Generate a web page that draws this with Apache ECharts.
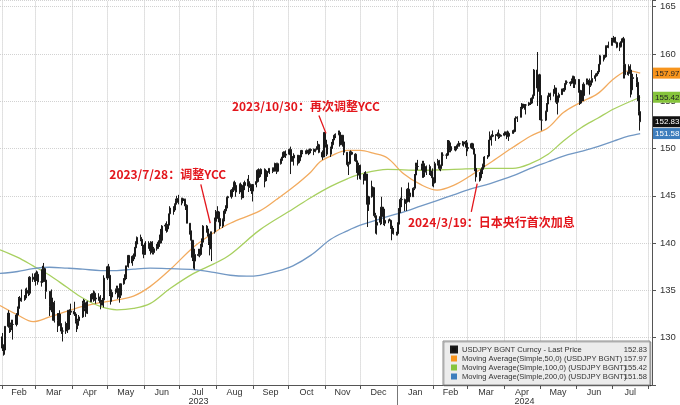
<!DOCTYPE html>
<html>
<head>
<meta charset="utf-8">
<script src="https://cdn.jsdelivr.net/npm/echarts@6/dist/echarts.min.js"></script>
<style>
  html, body { margin: 0; padding: 0; background: #fff; }
  #main { width: 680px; height: 405px; }
</style>
</head>
<body>
<div id="main"></div>
<script>
// 坐标轴标签
const monthLabels = ['Feb', 'Mar', 'Apr', 'May', 'Jun', 'Jul', 'Aug', 'Sep', 'Oct', 'Nov', 'Dec',
  'Jan', 'Feb', 'Mar', 'Apr', 'May', 'Jun', 'Jul'];
const firstMonth = '2023-02-01';
const yearBreak = '2024-01-01';
const axisStart = '2023-01-30';
const axisEnd = '2024-08-04';

// 日线数据：从 2023-02-01 起的交易日（周一至周五），开盘 = 前一日收盘
const firstDay = '2023-02-01';
const firstOpen = 130.1;
const closes = [
  128.9, 128.7, 131.2,
  132.6, 131.1, 131.4, 131.4, 131.4,
  132.4, 133.1, 134.1, 133.9, 134.2,
  134.2, 135.0, 134.9, 134.7, 136.4,
  136.2, 136.2, 136.1, 136.7, 135.9,
  135.9, 137.2, 137.3, 136.1, 134.9,
  133.3, 134.2, 133.4, 133.7, 131.8,
  131.3, 132.5, 131.5, 130.7, 130.7,
  131.5, 130.9, 132.9, 132.7, 132.8,
  132.5, 131.7, 131.3, 131.8, 132.2,
  133.6, 133.7, 133.1, 132.6, 133.8,
  134.5, 134.1, 134.7, 134.2, 134.1,
  134.3, 133.7, 133.7, 134.0, 136.3,
  137.5, 136.6, 134.6, 134.3, 134.8,
  135.1, 135.2, 134.3, 134.5, 135.7,
  136.1, 136.4, 137.6, 138.7, 137.9,
  138.6, 138.6, 139.5, 139.9, 140.6,
  140.4, 139.8, 139.3, 138.8, 140.0,
  139.6, 139.2, 140.1, 139.0, 139.4,
  139.6, 140.1, 140.0, 140.3, 141.8,
  141.9, 141.5, 141.9, 143.1, 143.7,
  143.5, 144.1, 144.5, 144.7, 144.3,
  144.7, 144.5, 144.6, 144.0, 142.1,
  141.3, 140.3, 138.5, 138.1, 138.8,
  138.7, 138.8, 139.6, 140.1, 141.8,
  141.5, 140.9, 140.2, 139.4, 141.2,
  142.3, 143.3, 143.3, 142.6, 141.8,
  142.5, 143.4, 143.7, 144.8, 144.9,
  145.6, 145.6, 146.4, 146.1, 145.4,
  146.2, 145.9, 144.8, 146.1, 146.4,
  146.5, 145.9, 146.2, 145.5, 146.2,
  146.5, 147.7, 147.7, 147.3, 147.8,
  146.6, 147.1, 147.5, 147.5, 147.9,
  147.6, 147.9, 148.4, 147.6, 148.4,
  148.9, 149.1, 149.6, 149.3, 149.4,
  149.9, 149.0, 149.1, 149.0, 149.3,
  148.5, 148.7, 149.1, 149.8, 149.6,
  149.5, 149.8, 149.8, 149.8, 149.9,
  149.7, 149.9, 150.2, 150.4, 149.6,
  149.1, 151.7, 150.9, 150.4, 149.4,
  150.0, 150.4, 150.9, 151.4, 151.5,
  151.7, 150.4, 151.4, 150.7, 149.6,
  148.3, 148.4, 149.5, 149.6, 149.4,
  148.7, 147.5, 147.2, 148.2, 146.8,
  147.2, 147.2, 147.3, 144.1, 144.9,
  145.9, 145.4, 142.9, 141.9, 142.2,
  142.8, 143.8, 143.6, 142.1, 142.4,
  142.4, 142.4, 141.8, 141.4, 141.0,
  141.0, 142.0, 143.3, 144.6, 144.6,
  144.2, 144.4, 145.7, 145.3, 144.9,
  145.8, 147.2, 148.1, 148.1, 148.1,
  148.1, 148.4, 147.5, 147.6, 148.1,
  147.5, 147.6, 146.9, 146.4, 148.4,
  148.7, 147.9, 148.2, 149.3, 149.3,
  149.3, 150.8, 150.6, 149.8, 150.2,
  150.0, 150.0, 150.3, 150.5, 150.5,
  150.7, 150.5, 150.6, 150.0, 150.1,
  150.5, 150.0, 149.4, 147.9, 147.0,
  146.9, 147.7, 147.8, 148.3, 149.1,
  149.2, 150.9, 151.3, 151.3, 151.4,
  151.4, 151.5, 151.3, 151.3, 151.4,
  151.6, 151.6, 151.7, 151.3, 151.6,
  151.9, 151.8, 153.2, 153.3, 153.3,
  154.2, 154.7, 154.4, 154.6, 154.6,
  154.8, 154.8, 155.3, 155.6, 158.3,
  156.4, 157.8, 155.6, 153.0, 153.0,
  153.9, 154.7, 155.5, 155.5, 155.8,
  156.2, 156.4, 154.9, 155.4, 155.7,
  156.3, 156.2, 156.8, 157.0, 157.0,
  156.9, 157.2, 157.6, 156.8, 157.3,
  156.1, 154.8, 156.1, 155.6, 156.8,
  157.0, 157.2, 156.7, 157.0, 157.4,
  157.7, 157.9, 158.1, 158.9, 159.8,
  159.7, 159.7, 160.8, 160.7, 160.9,
  161.5, 161.4, 161.7, 161.2, 160.7,
  160.8, 161.3, 161.6, 158.9, 157.8,
  158.1, 158.3, 156.2, 157.4, 157.5,
  157.0, 155.6, 153.9, 152.83
];
const highs = [
  130.5, 129.3, 131.2,
  132.9, 132.6, 131.6, 131.9, 131.9,
  132.6, 133.3, 134.3, 134.4, 135.1,
  134.5, 135.2, 135.3, 135.1, 136.5,
  136.8, 136.8, 136.9, 137.1, 137.0,
  136.1, 137.6, 137.9, 137.4, 136.7,
  134.9, 134.6, 135.1, 133.9, 133.9,
  132.6, 132.6, 132.9, 131.5, 131.1,
  131.7, 131.6, 132.9, 133.0, 133.6,
  133.8, 132.7, 131.8, 132.0, 132.4,
  133.9, 134.1, 134.0, 133.2, 133.9,
  134.6, 134.7, 135.0, 134.9, 134.4,
  134.7, 134.5, 134.0, 134.2, 136.6,
  137.6, 137.8, 136.7, 134.9, 135.1,
  135.2, 135.5, 135.5, 134.8, 135.7,
  136.3, 136.7, 137.6, 138.7, 138.7,
  138.7, 138.9, 139.6, 140.2, 140.7,
  140.9, 140.6, 140.1, 139.4, 140.2,
  140.2, 139.9, 140.2, 140.2, 139.6,
  139.9, 140.3, 140.9, 141.5, 141.9,
  142.1, 142.3, 142.0, 143.1, 143.9,
  143.9, 144.2, 144.7, 145.0, 145.1,
  144.8, 144.8, 144.7, 144.7, 144.1,
  142.1, 141.3, 140.3, 138.8, 139.4,
  139.4, 139.4, 139.9, 140.5, 141.9,
  141.9, 141.7, 141.4, 141.0, 141.2,
  142.7, 143.5, 143.9, 143.4, 142.7,
  142.6, 143.6, 144.0, 144.9, 145.0,
  145.7, 145.9, 146.5, 146.6, 146.0,
  146.3, 146.4, 145.9, 146.2, 146.6,
  146.8, 147.2, 146.3, 146.2, 146.2,
  146.6, 147.8, 147.9, 147.8, 147.9,
  147.9, 147.2, 147.7, 147.6, 147.9,
  148.0, 148.0, 148.5, 148.5, 148.5,
  148.9, 149.2, 149.7, 149.7, 149.8,
  150.0, 150.2, 149.3, 149.2, 149.5,
  149.3, 148.9, 149.3, 149.8, 149.8,
  149.8, 149.9, 149.9, 150.0, 150.0,
  150.0, 150.0, 150.2, 150.8, 150.5,
  149.8, 151.7, 151.7, 151.0, 150.6,
  150.2, 150.7, 151.0, 151.4, 151.6,
  151.9, 151.9, 151.4, 151.4, 150.8,
  149.6, 148.6, 149.7, 149.8, 149.7,
  149.5, 148.8, 147.5, 148.5, 148.3,
  147.3, 147.5, 147.6, 147.3, 145.0,
  146.6, 146.0, 145.9, 143.2, 142.4,
  142.8, 144.9, 143.8, 143.7, 142.6,
  142.5, 142.6, 142.5, 141.9, 141.6,
  141.2, 142.2, 143.7, 144.8, 145.9,
  144.7, 144.6, 145.8, 146.4, 145.5,
  145.9, 147.3, 148.5, 148.5, 148.8,
  148.4, 148.7, 148.7, 147.8, 148.2,
  148.3, 147.9, 147.9, 146.9, 148.6,
  148.9, 148.8, 148.3, 149.6, 149.6,
  149.5, 150.9, 150.9, 150.4, 150.4,
  150.2, 150.2, 150.4, 150.8, 150.6,
  150.8, 150.7, 150.8, 150.9, 150.4,
  150.6, 150.6, 150.2, 149.4, 148.2,
  147.5, 147.8, 148.0, 148.4, 149.2,
  149.3, 150.9, 151.8, 151.5, 151.9,
  151.5, 151.7, 152.0, 151.6, 151.5,
  151.8, 151.8, 151.8, 151.9, 151.8,
  151.9, 152.0, 153.2, 153.4, 153.4,
  154.4, 154.8, 154.7, 154.7, 154.7,
  154.9, 154.9, 155.4, 155.7, 158.4,
  160.2, 157.8, 157.9, 155.9, 153.8,
  154.0, 154.8, 155.6, 155.9, 155.9,
  156.3, 156.7, 156.4, 155.6, 155.9,
  156.3, 156.4, 156.9, 157.2, 157.2,
  157.1, 157.4, 157.7, 157.7, 157.3,
  157.1, 156.2, 156.2, 156.2, 157.0,
  157.4, 157.4, 157.4, 157.2, 158.3,
  157.8, 158.0, 158.2, 158.9, 159.9,
  159.9, 159.9, 160.9, 160.9, 161.3,
  161.7, 161.7, 161.9, 161.8, 161.3,
  161.2, 161.4, 161.7, 161.8, 159.4,
  158.9, 158.7, 158.9, 157.6, 157.9,
  157.9, 157.2, 155.8, 154.7
];
const lows = [
  128.6, 128.1, 128.2,
  131.1, 130.5, 130.6, 130.8, 129.8,
  131.2, 131.6, 132.7, 133.4, 133.8,
  133.9, 134.0, 134.5, 134.4, 134.5,
  135.9, 135.9, 135.5, 136.0, 135.6,
  135.4, 135.8, 136.9, 135.9, 134.1,
  132.3, 132.9, 132.7, 131.8, 131.6,
  130.6, 131.2, 131.3, 130.4, 129.6,
  130.4, 130.5, 130.8, 132.3, 132.4,
  132.3, 131.5, 130.6, 130.9, 131.4,
  132.1, 133.2, 132.8, 132.2, 132.5,
  133.8, 133.9, 133.8, 133.9, 133.6,
  133.9, 133.0, 133.4, 133.4, 133.2,
  136.1, 136.4, 134.4, 133.5, 133.8,
  134.6, 134.8, 134.1, 133.7, 134.2,
  135.6, 135.8, 136.2, 137.5, 137.4,
  137.6, 138.1, 138.3, 139.4, 139.7,
  140.2, 139.7, 138.8, 138.4, 138.8,
  139.4, 139.3, 138.8, 138.8, 138.8,
  139.2, 139.4, 139.6, 140.0, 140.1,
  141.3, 141.1, 141.2, 141.6, 142.9,
  143.0, 143.3, 144.0, 144.3, 144.1,
  144.0, 144.2, 143.9, 143.5, 142.1,
  140.9, 139.9, 138.1, 137.3, 137.2,
  138.6, 138.5, 138.8, 139.6, 139.9,
  141.1, 140.7, 139.8, 138.7, 138.1,
  141.0, 142.1, 142.8, 142.2, 141.5,
  141.6, 142.3, 143.1, 143.7, 144.0,
  144.7, 145.1, 145.4, 145.6, 144.9,
  145.2, 145.7, 144.6, 144.9, 145.6,
  146.0, 145.4, 145.5, 145.2, 144.4,
  145.9, 146.4, 147.2, 146.9, 147.0,
  145.9, 146.5, 146.6, 147.0, 147.3,
  147.4, 147.6, 147.6, 147.3, 147.5,
  148.3, 148.7, 149.0, 149.2, 149.0,
  149.3, 147.3, 148.6, 148.6, 148.2,
  148.2, 148.4, 148.6, 149.0, 149.4,
  149.4, 149.4, 149.3, 149.4, 149.5,
  149.3, 149.6, 149.8, 150.2, 149.5,
  148.8, 149.1, 149.8, 150.1, 149.2,
  149.1, 149.7, 150.3, 150.9, 151.1,
  151.4, 150.2, 150.4, 150.2, 149.3,
  148.1, 147.2, 148.3, 149.3, 149.3,
  148.6, 147.4, 146.7, 147.2, 146.7,
  146.2, 146.6, 146.6, 141.7, 143.4,
  144.8, 145.0, 142.7, 141.0, 140.9,
  141.9, 142.0, 143.1, 141.9, 141.8,
  142.1, 142.3, 141.5, 140.3, 140.9,
  140.8, 140.8, 141.7, 143.2, 143.8,
  143.4, 143.4, 144.3, 144.6, 144.3,
  144.9, 145.6, 147.2, 147.6, 147.7,
  147.7, 146.9, 146.9, 147.0, 147.2,
  147.2, 147.1, 146.0, 145.9, 146.3,
  148.2, 147.7, 147.6, 147.9, 148.9,
  148.9, 149.2, 150.3, 149.6, 149.6,
  149.8, 149.7, 149.8, 150.2, 150.2,
  150.3, 150.2, 150.1, 149.2, 149.7,
  150.0, 149.9, 149.4, 147.6, 146.5,
  146.5, 146.6, 147.2, 147.3, 148.0,
  148.9, 149.2, 150.2, 150.3, 151.2,
  150.8, 151.3, 151.0, 151.1, 151.3,
  151.3, 151.4, 151.0, 151.2, 150.8,
  151.6, 151.6, 151.7, 152.8, 152.8,
  153.3, 154.1, 154.3, 154.1, 153.6,
  154.5, 154.6, 154.7, 155.1, 155.4,
  154.5, 156.0, 153.0, 153.0, 151.9,
  152.9, 153.7, 154.6, 155.2, 155.1,
  155.5, 156.0, 154.7, 153.6, 155.2,
  155.8, 156.0, 156.0, 156.6, 156.8,
  156.6, 156.8, 157.1, 156.4, 156.4,
  155.9, 154.6, 154.7, 155.0, 155.0,
  156.9, 156.9, 155.7, 156.5, 156.9,
  157.1, 157.6, 157.8, 157.9, 158.8,
  159.2, 159.4, 159.6, 160.3, 160.6,
  160.9, 161.3, 161.2, 161.1, 160.6,
  160.3, 160.7, 161.2, 157.4, 157.4,
  157.7, 157.9, 155.4, 155.7, 157.0,
  156.5, 155.0, 153.5, 151.9
];

// 移动平均线（从图上读取的取样点）
const ma50 = [
  ['2023-01-30', 133.4], ['2023-02-14', 132.4], ['2023-02-27', 131.7], ['2023-03-13', 132.2],
  ['2023-03-28', 132.8], ['2023-04-10', 133.3], ['2023-04-25', 133.7], ['2023-05-09', 134.0],
  ['2023-05-23', 134.4], ['2023-06-06', 135.4], ['2023-06-23', 137.2], ['2023-07-13', 139.6],
  ['2023-07-30', 141.1], ['2023-08-13', 142.1], ['2023-09-07', 143.4], ['2023-09-21', 144.6],
  ['2023-10-05', 145.9], ['2023-10-20', 147.5], ['2023-10-28', 148.6], ['2023-11-06', 149.2],
  ['2023-11-20', 149.8], ['2023-12-01', 149.8], ['2023-12-12', 149.5], ['2023-12-24', 149.0],
  ['2024-01-07', 147.3], ['2024-01-21', 146.2], ['2024-02-04', 145.6], ['2024-02-18', 146.1],
  ['2024-03-03', 147.1], ['2024-03-20', 148.5], ['2024-04-08', 150.1], ['2024-04-23', 151.3],
  ['2024-05-08', 152.2], ['2024-05-21', 153.8], ['2024-06-05', 154.9], ['2024-06-19', 155.8],
  ['2024-07-03', 157.4], ['2024-07-15', 158.2], ['2024-07-25', 157.97]
];
const ma100 = [
  ['2023-01-30', 139.3], ['2023-02-14', 138.5], ['2023-02-27', 137.6], ['2023-03-13', 136.6],
  ['2023-03-28', 135.3], ['2023-04-10', 134.2], ['2023-04-25', 133.3], ['2023-05-09', 132.95],
  ['2023-05-23', 133.1], ['2023-06-06', 133.6], ['2023-06-23', 135.2], ['2023-07-13', 136.8],
  ['2023-07-30', 137.8], ['2023-08-13', 138.8], ['2023-09-07', 141.4], ['2023-10-05', 143.6],
  ['2023-10-20', 144.8], ['2023-11-06', 146.0], ['2023-11-20', 146.8], ['2023-12-01', 147.3],
  ['2023-12-24', 147.8], ['2024-01-21', 147.7], ['2024-02-18', 147.8], ['2024-03-20', 147.9],
  ['2024-04-08', 147.9], ['2024-04-23', 148.4], ['2024-05-08', 149.4], ['2024-05-21', 150.8],
  ['2024-06-05', 152.2], ['2024-06-19', 153.2], ['2024-07-03', 154.2], ['2024-07-25', 155.42]
];
const ma200 = [
  ['2023-01-30', 136.8], ['2023-02-14', 137.0], ['2023-02-27', 137.3], ['2023-03-13', 137.45],
  ['2023-03-28', 137.35], ['2023-04-10', 137.25], ['2023-04-25', 137.1], ['2023-05-09', 137.1],
  ['2023-05-23', 137.25], ['2023-06-06', 137.35], ['2023-06-23', 137.3], ['2023-07-13', 137.2],
  ['2023-07-30', 136.9], ['2023-08-13', 136.6], ['2023-08-27', 136.5], ['2023-09-07', 136.6],
  ['2023-09-21', 137.0], ['2023-10-05', 137.6], ['2023-10-20', 138.7], ['2023-11-06', 140.4],
  ['2023-11-20', 141.3], ['2023-12-01', 141.9], ['2023-12-24', 142.8], ['2024-01-07', 143.3],
  ['2024-01-21', 143.9], ['2024-02-04', 144.5], ['2024-02-18', 145.1], ['2024-03-03', 145.7],
  ['2024-03-20', 146.3], ['2024-04-08', 147.1], ['2024-04-23', 147.9], ['2024-05-08', 148.6],
  ['2024-05-21', 149.2], ['2024-06-05', 149.7], ['2024-06-19', 150.2], ['2024-07-03', 150.8],
  ['2024-07-15', 151.3], ['2024-07-25', 151.58]
];

const seriesNames = [
  'USDJPY BGNT Curncy - Last Price',
  'Moving Average(Simple,50,0) (USDJPY BGNT)',
  'Moving Average(Simple,100,0) (USDJPY BGNT)',
  'Moving Average(Simple,200,0) (USDJPY BGNT)'
];
const lastValues = [152.83, 157.97, 155.42, 151.58];

// 标注
const notes = [
  { text: '2023/7/28：调整YCC', at: ['2023-06-21', 147.3], from: ['2023-07-19', 146.2], to: ['2023-07-27', 142.1] },
  { text: '2023/10/30：再次调整YCC', at: ['2023-10-16', 154.45], from: ['2023-10-27', 153.5], to: ['2023-11-02', 151.6] },
  { text: '2024/3/19：日本央行首次加息', at: ['2024-03-21', 142.23], from: ['2024-03-04', 143.3], to: ['2024-03-09', 146.3] }
];

const RED = '#e3161c';
const FONT = "'Liberation Sans', Arial, sans-serif";
const GRID_COLOR = '#d2d2d2';
const VGRID_COLOR = '#c4c4c4';
const tagColors = ['#111111', '#f7941d', '#86c43c', '#3d7dbd'];
const tagText = ['#fff', '#222', '#222', '#fff'];
const lineColors = ['#111', '#f2ab5f', '#a8d060', '#7298c4'];
const Y_MIN = 125, Y_MAX = 165.7;

function ts(s) {
  const p = s.split('-').map(Number);
  return new Date(p[0], p[1] - 1, p[2]).getTime();
}

function tradingDays(start, n) {
  const out = [];
  const d = new Date(ts(start));
  while (out.length < n) {
    const wd = d.getDay();
    if (wd !== 0 && wd !== 6) out.push(d.getTime());
    d.setDate(d.getDate() + 1);
  }
  return out;
}

const days = tradingDays(firstDay, closes.length);
const candles = days.map((t, i) => [t, i === 0 ? firstOpen : closes[i - 1], closes[i], lows[i], highs[i]]);

const monthStarts = [];
{
  const d = new Date(ts(firstMonth));
  for (let i = 0; i <= monthLabels.length; i++) {
    monthStarts.push(d.getTime());
    d.setMonth(d.getMonth() + 1);
  }
}
const monthMids = monthLabels.map((_, i) => Math.round((monthStarts[i] + monthStarts[i + 1]) / 2));
const xMin = ts(axisStart), xMax = ts(axisEnd), xBreak = ts(yearBreak);
const yearMids = [Math.round((xMin + xBreak) / 2), Math.round((xBreak + xMax) / 2)];

function nearestIndex(list, v) {
  let best = 0;
  list.forEach((m, i) => { if (Math.abs(m - v) < Math.abs(list[best] - v)) best = i; });
  return best;
}

const tagOrder = [1, 2, 0, 3];
const tagRich = {};
tagOrder.forEach(i => {
  tagRich['b' + i] = {
    backgroundColor: tagColors[i], color: tagText[i],
    fontSize: 8, fontFamily: FONT, padding: [2, 2, 1, 2], lineHeight: 9
  };
});

const chart = echarts.init(document.getElementById('main'));

const option = {
  animation: false,
  backgroundColor: '#fff',
  textStyle: { fontFamily: FONT },
  grid: { left: 0, right: 28, top: 0, bottom: 20, outerBoundsMode: 'none' },
  legend: {
    orient: 'vertical',
    left: 443,
    top: 341,
    padding: [4, 3, 4, 7],
    itemGap: 0,
    itemWidth: 6,
    itemHeight: 6,
    icon: 'rect',
    selectedMode: false,
    backgroundColor: '#ececec',
    borderColor: '#8c8c8c',
    borderWidth: 1,
    shadowColor: 'rgba(0,0,0,0.25)',
    shadowOffsetX: 1,
    shadowOffsetY: 1,
    data: seriesNames.map((n, i) => ({ name: n, itemStyle: { color: tagColors[i] } })),
    formatter: name => `{n|${name}}{v|${lastValues[seriesNames.indexOf(name)].toFixed(2)}}`,
    textStyle: {
      color: '#333',
      fontSize: 7.6,
      fontFamily: FONT,
      lineHeight: 9,
      rich: {
        n: { width: 160, fontSize: 7.6, lineHeight: 9 },
        v: { width: 25, align: 'right', fontSize: 7.6, lineHeight: 9 }
      }
    }
  },
  xAxis: [
    {
      type: 'value',
      min: xMin,
      max: xMax,
      position: 'bottom',
      axisLine: { lineStyle: { color: '#555', width: 1 } },
      axisTick: { customValues: monthStarts, length: 4, lineStyle: { color: '#555' } },
      axisLabel: {
        customValues: monthMids,
        margin: 3,
        fontSize: 9,
        color: '#333',
        formatter: v => monthLabels[nearestIndex(monthMids, v)]
      },
      splitLine: { show: false }
    },
    {
      type: 'value',
      min: xMin,
      max: xMax,
      position: 'bottom',
      axisLine: { show: false },
      axisTick: { customValues: [xBreak], length: 20, lineStyle: { color: '#777' } },
      axisLabel: {
        customValues: yearMids,
        margin: 12,
        fontSize: 9,
        color: '#333',
        formatter: v => String(new Date(v).getFullYear())
      },
      splitLine: { show: false }
    }
  ],
  yAxis: [
    {
      type: 'value',
      position: 'right',
      min: Y_MIN,
      max: Y_MAX,
      interval: 5,
      axisLine: { show: true, lineStyle: { color: '#555' } },
      axisTick: { show: true, length: 4, lineStyle: { color: '#555' } },
      axisLabel: {
        margin: 8,
        fontSize: 9.5,
        color: '#333',
        formatter: v => (Math.abs(v % 5) < 1e-6 && v > 126 && v < 166) ? String(v) : ''
      },
      splitLine: { show: true, lineStyle: { color: GRID_COLOR, type: 'dotted' } }
    },
    {
      type: 'value',
      position: 'right',
      min: Y_MIN,
      max: Y_MAX,
      axisLine: { show: false },
      axisTick: { show: false },
      splitLine: { show: false },
      axisLabel: {
        customValues: tagOrder.map(i => lastValues[i]),
        margin: 1,
        formatter: v => {
          const i = nearestIndex(lastValues, v);
          return `{b${i}|${lastValues[i].toFixed(2)}}`;
        },
        rich: tagRich
      }
    }
  ],
  series: [
    {
      // 透明的辅助系列，只用来画月初的竖向网格线（在所有图形之下）
      type: 'candlestick',
      xAxisIndex: 0,
      yAxisIndex: 0,
      data: candles,
      encode: { x: 0, y: [1, 2, 3, 4] },
      silent: true,
      z: 1,
      barWidth: 1,
      itemStyle: {
        color: 'rgba(0,0,0,0)', color0: 'rgba(0,0,0,0)',
        borderColor: 'rgba(0,0,0,0)', borderColor0: 'rgba(0,0,0,0)', borderWidth: 0
      },
      markLine: {
        silent: true,
        z: 1,
        symbol: ['none', 'none'],
        label: { show: false },
        lineStyle: { color: VGRID_COLOR, type: 'dotted', width: 1, opacity: 1 },
        // 端点略收进坐标范围内，避免被边界判断过滤掉
        data: monthStarts.map(t => [{ coord: [t, Y_MIN + 0.05] }, { coord: [t, Y_MAX - 0.05] }])
      }
    },
    {
      name: seriesNames[0],
      type: 'candlestick',
      xAxisIndex: 0,
      yAxisIndex: 0,
      data: candles,
      encode: { x: 0, y: [1, 2, 3, 4] },
      barWidth: 1.6,
      z: 4,
      itemStyle: {
        color: '#1a1a1a', color0: '#1a1a1a',
        borderColor: '#1a1a1a', borderColor0: '#1a1a1a',
        borderWidth: 1
      },
      markLine: {
        silent: true,
        symbol: ['none', 'arrow'],
        symbolSize: [0, 8],
        label: { show: false },
        lineStyle: { color: RED, width: 1.3, type: 'solid' },
        data: notes.map(n => [
          { coord: [ts(n.from[0]), n.from[1]] },
          { coord: [ts(n.to[0]), n.to[1]] }
        ])
      },
      markPoint: {
        silent: true,
        symbol: 'circle',
        symbolSize: 1,
        itemStyle: { color: 'rgba(0,0,0,0)' },
        label: {
          show: true,
          position: 'inside',
          formatter: p => p.name,
          color: RED,
          fontSize: 12,
          fontWeight: 'bold',
          fontFamily: "'Noto Sans CJK SC', sans-serif"
        },
        data: notes.map(n => ({ name: n.text, coord: [ts(n.at[0]), n.at[1]] }))
      }
    },
    ...[ma50, ma100, ma200].map((arr, k) => ({
      name: seriesNames[k + 1],
      type: 'line',
      xAxisIndex: 0,
      yAxisIndex: 0,
      data: arr.map(p => [ts(p[0]), p[1]]),
      showSymbol: false,
      smooth: 0.35,
      z: 3,
      itemStyle: { color: tagColors[k + 1] },
      lineStyle: { color: lineColors[k + 1], width: 1.3 }
    }))
  ]
};

chart.setOption(option);
</script>
</body>
</html>
